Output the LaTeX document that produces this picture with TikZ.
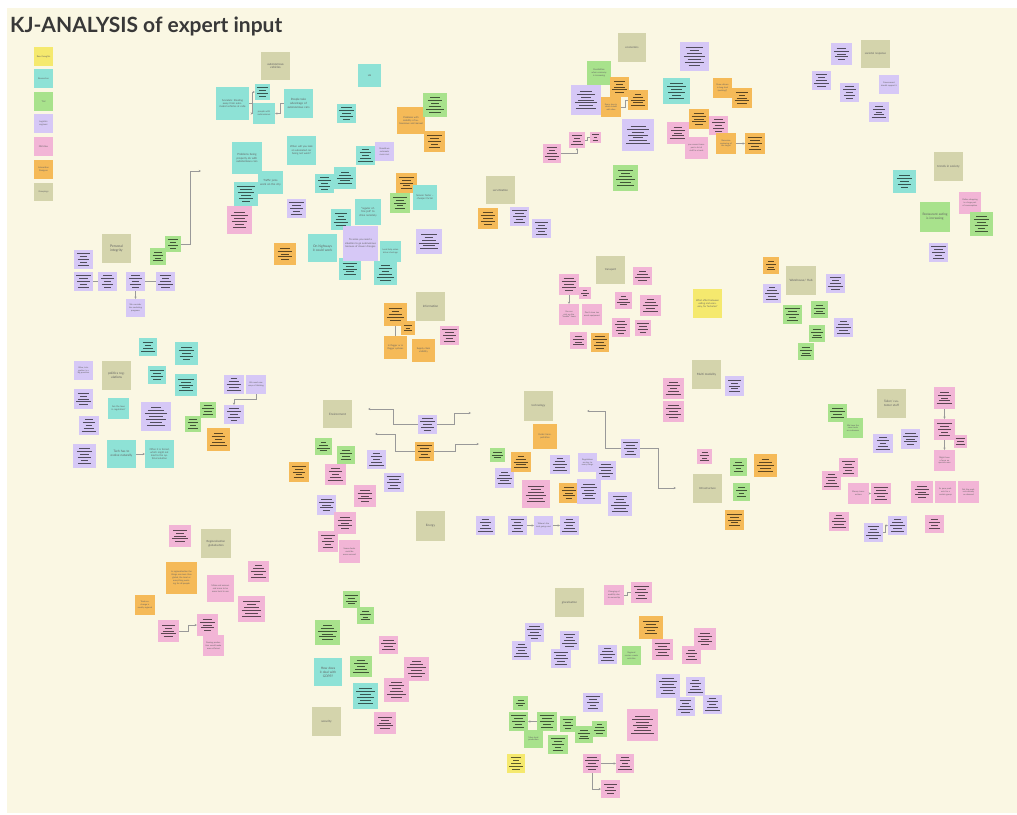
\documentclass[tikz,border=0pt]{standalone}
\usepackage{fontspec}
\setmainfont{Lato}
\usetikzlibrary{arrows.meta}
\definecolor{cBg}{RGB}{250,247,227}
\definecolor{cY}{RGB}{245,233,110}
\definecolor{cT}{RGB}{142,226,214}
\definecolor{cG}{RGB}{168,226,140}
\definecolor{cP}{RGB}{214,200,246}
\definecolor{cK}{RGB}{242,181,214}
\definecolor{cO}{RGB}{245,186,88}
\definecolor{cH}{RGB}{212,212,172}
\tikzset{
  note/.style={inner sep=0pt, outer sep=0pt, draw=none},
  con/.style={draw=black!40, line width=0.5pt},
  arr/.style={con, -{Stealth[length=2.4pt,width=2.2pt]}}
}
% note with placeholder lines: name, x1, y1, x2, y2, colour
\newcommand\LN[6]{%
  \pgfmathsetmacro\kjw{#4-#2}\pgfmathsetmacro\kjh{#5-#3}%
  \pgfmathsetmacro\kjx{(#2+#4)/2}\pgfmathsetmacro\kjy{(#3+#5)/2}%
  \node[note, fill=#6, minimum width=\kjw pt, minimum height=\kjh pt] (#1) at (\kjx,\kjy) {};%
  \pgfmathtruncatemacro\kjn{floor(\kjh*0.62/2.9)+1}%
  \foreach \i in {1,...,\kjn} {%
    \pgfmathsetmacro\kjly{\kjy-(\kjn-1)*1.45+(\i-1)*2.9}%
    \pgfmathsetmacro\kjlf{0.45+0.55*mod(\i*3+#2+#3,7)/6}%
    \pgfmathsetmacro\kjlh{\kjlf*\kjw*0.37}%
    \draw[line width=0.9pt, draw=#6!38!black] (\kjx-\kjlh,\kjly) -- (\kjx+\kjlh,\kjly);
  }%
}
% note with text: name, x1, y1, x2, y2, colour, font size, text
\newcommand\TN[8]{%
  \pgfmathsetmacro\kjw{#4-#2}\pgfmathsetmacro\kjh{#5-#3}%
  \pgfmathsetmacro\kjx{(#2+#4)/2}\pgfmathsetmacro\kjy{(#3+#5)/2}%
  \pgfmathsetmacro\kjtw{\kjw-4}\pgfmathsetmacro\kjbs{#7*1.3}%
  \node[note, fill=#6, minimum width=\kjw pt, minimum height=\kjh pt, text width=\kjtw pt,
        align=center, text=black!62, font=\fontsize{#7pt}{\kjbs pt}\selectfont] (#1) at (\kjx,\kjy) {#8};%
}
\newcommand\HN[7]{\TN{#1}{#2}{#3}{#4}{#5}{cH}{#6}{#7}}
\begin{document}
\begin{tikzpicture}[x=1pt,y=-1pt]
\useasboundingbox (0,0) rectangle (1017,814);
\fill[white] (0,0) rectangle (1017,814);
\fill[cBg] (7,8) rectangle (1017,813);
\node[anchor=base west, inner sep=0pt, text=black!78, font=\bfseries\fontsize{21}{21}\selectfont] (title) at (10,32) {KJ-ANALYSIS of expert input};

% legend
\TN{lg1}{34}{47}{53}{66}{cY}{2.2}{Raw thoughts}
\TN{lg2}{34}{69}{53}{88}{cT}{2.2}{Researcher}
\TN{lg3}{34}{92}{53}{111}{cG}{2.2}{TLU}
\TN{lg4}{34}{114}{53}{133}{cP}{2.2}{Logistics engineer}
\TN{lg5}{34}{137}{53}{156}{cK}{2.2}{DMS Ron}
\TN{lg6}{34}{160}{53}{179}{cO}{2.2}{Interaction Designer}
\TN{lg7}{34}{183}{53}{201}{cH}{2.2}{Groupings}

% autonomous vehicles / ux
\HN{hav}{261}{52}{290}{80}{3}{autonomous vehicles}
\TN{sc}{216}{87}{249}{120}{cT}{2.6}{Scandals: Stealing away from automated vehicles at cabs}
\LN{av1}{255}{84}{270}{100}{cT}
\TN{pw}{253}{103}{275}{124}{cT}{2.3}{people with autonomous}
\TN{pta}{284}{89}{313}{118}{cT}{2.9}{People take advantage of autonomous cars}
\TN{ux}{358}{64}{381}{87}{cT}{3.2}{ux}
\LN{av2}{337}{104}{356}{123}{cT}
\TN{pmo}{397}{107}{425}{134}{cO}{2.4}{Problems with mobility of autonomous and manual}
\LN{av3}{423}{93}{447}{117}{cG}
\LN{av4}{424}{131}{445}{152}{cO}
\TN{pbp}{232}{142}{262}{174}{cT}{2.8}{Problems being properly ok with autonomous cars}
\TN{wwy}{287}{136}{316}{165}{cT}{2.6}{When will you look at automated car being not work?}
\LN{av5}{356}{146}{375}{165}{cT}
\TN{swa}{375}{142}{394}{161}{cP}{2.2}{Should we automate more cars}
\LN{av6}{234}{182}{258}{206}{cT}
\TN{tjw}{258}{171}{283}{194}{cT}{2.8}{Traffic jams work on the city}
\LN{av7}{227}{206}{252}{234}{cK}
\LN{av8}{315}{174}{334}{193}{cT}
\LN{av9}{334}{167}{356}{189}{cT}
\LN{av10}{396}{173}{417}{193}{cO}
\LN{av11}{390}{193}{410}{213}{cG}
\TN{sfc}{413}{185}{437}{210}{cT}{2.5}{Sooner faster -- cheaper factor}
\LN{av12}{287}{199}{306}{218}{cP}
\TN{rof}{355}{199}{381}{225}{cT}{2.7}{``regular office job'' to drive remotely}
\LN{av13}{331}{209}{351}{230}{cT}
\LN{av14}{339}{258}{361}{280}{cT}
\TN{tsy}{343}{226}{378}{261}{cP}{2.5}{To some you need a situation to go autonomous because of slower changes}
\TN{ohw}{308}{234}{337}{262}{cT}{3.3}{On highways it could work}
\TN{lhw}{380}{241}{401}{262}{cT}{2.2}{Local help when driver shortage}
\LN{av15}{274}{243}{296}{265}{cO}
\LN{av16}{416}{229}{442}{254}{cP}
\LN{av17}{374}{261}{397}{285}{cT}
\draw[arr] (sc.east) -- ++(3,0) |- (av1);
\draw[arr] (sc.east) -- ++(3,0) |- (pw);
\draw[arr] (pta.west) -- ++(-4,0) |- (pw);

% personal integrity
\HN{hpi}{102}{234}{131}{263}{3.4}{Personal integrity}
\LN{pg1}{165}{236}{181}{252}{cG}
\LN{pg2}{150}{248}{166}{265}{cG}
\coordinate (pgEnd) at (201,171);
\draw[arr] (pg1.east) -- ++(9,0) |- (pgEnd);
\LN{pp0}{74}{250}{93}{269}{cP}
\LN{pp1}{74}{272}{93}{291}{cP}
\LN{pp2}{98}{272}{117}{291}{cP}
\LN{pp3}{126}{272}{145}{291}{cP}
\LN{pp4}{156}{272}{175}{291}{cP}
\TN{pt1}{126}{299}{145}{317}{cP}{2.1}{We consider the marketing programs}
\draw[con] (pp1) -- (pp2);
\draw[con] (pp3) -- (pp4);
\draw[arr] (pp3) -- (pt1);

% politics regulations
\LN{po1}{139}{338}{157}{356}{cT}
\LN{po2}{175}{342}{198}{365}{cT}
\TN{wig}{74}{361}{93}{380}{cP}{2.1}{Wow, integration is a big question}
\HN{hpr}{102}{361}{131}{390}{3.2}{politics regulations}
\LN{po3}{148}{366}{166}{384}{cT}
\LN{po4}{175}{374}{197}{396}{cT}
\LN{po5}{74}{389}{93}{409}{cP}
\TN{alr}{108}{398}{129}{419}{cT}{2.3}{Are the laws in regulation?}
\LN{po6}{141}{402}{171}{431}{cP}
\LN{po7}{79}{416}{99}{435}{cP}
\LN{po8}{224}{375}{244}{394}{cP}
\TN{po9}{246}{375}{266}{394}{cP}{2.1}{We need new ways of thinking}
\LN{po10}{224}{405}{244}{424}{cP}
\draw[arr] (po9.south) -- ++(0,5) -| (po10.north);
\LN{po11}{200}{402}{216}{418}{cG}
\LN{po12}{185}{416}{201}{432}{cG}
\LN{po13}{207}{428}{230}{451}{cO}
\LN{po14}{73}{444}{96}{468}{cP}
\TN{tev}{107}{440}{136}{468}{cT}{3.1}{Tech has to evolve naturally}
\TN{oif}{145}{440}{174}{468}{cT}{2.5}{Often it is forced, which might not lead to the optimal solution}
\draw[arr] (tev) -- (oif);

% regionalisation
\LN{rg1}{169}{525}{191}{547}{cK}
\HN{hrg}{201}{529}{231}{558}{2.8}{Regionalisation globalisation}
\TN{irg}{166}{562}{197}{594}{cO}{2.2}{In regionalisation the things are more than global, the local or everything working for all people}
\TN{mas}{207}{575}{234}{602}{cK}{2.2}{Make and sensors and more to be more local in use}
\LN{rg2}{248}{561}{269}{582}{cK}
\LN{rg3}{238}{596}{265}{622}{cK}
\TN{tem}{135}{595}{155}{615}{cO}{2.1}{Trade exchange is mostly regional}
\LN{rp1}{158}{620}{179}{642}{cK}
\LN{rp2}{197}{614}{218}{636}{cK}
\TN{cpm}{203}{635}{224}{656}{cK}{2.1}{Coming production would make more efficient}
\draw[arr] (rp1.east) -- ++(9,0) |- (rp2);

% information
\HN{hin}{416}{292}{445}{321}{3}{Information}
\LN{io1}{384}{303}{407}{326}{cO}
\LN{io2}{401}{321}{415}{335}{cO}
\TN{io3}{384}{336}{407}{359}{cO}{2.3}{In flagger or in flagger systems}
\TN{scv}{412}{339}{435}{362}{cO}{2.4}{Supply chain visibility}
\LN{ik1}{440}{326}{459}{345}{cK}
\draw[con] (io1.south) -- (io3.north);

% environment
\HN{hen}{323}{400}{352}{428}{3}{Environment}
\LN{ep}{418}{415}{437}{434}{cP}
\LN{eo}{415}{442}{434}{461}{cO}
\coordinate (e1L) at (368,409);
\coordinate (e1R) at (471,413);
\coordinate (e2L) at (375,434);
\coordinate (e2R) at (479,444);
\draw[arr] (ep.west) -- ++(-25,0) |- (e1L);
\draw[arr] (ep.east) -- ++(17,0) |- (e1R);
\draw[arr] (eo.west) -- ++(-20,0) |- (e2L);
\draw[arr] (eo.east) -- ++(21,0) |- (e2R);
\LN{en1}{315}{438}{332}{455}{cG}
\LN{en2}{337}{446}{355}{464}{cG}
\LN{en3}{289}{462}{309}{482}{cO}
\LN{en4}{325}{464}{346}{485}{cK}
\LN{en5}{367}{450}{386}{469}{cP}
\LN{en6}{384}{473}{404}{492}{cP}
\LN{en7}{354}{485}{376}{507}{cK}
\LN{en8}{317}{495}{336}{515}{cP}
\LN{en9}{334}{512}{356}{534}{cK}
\LN{en10}{318}{531}{338}{552}{cK}
\TN{scc}{339}{540}{360}{563}{cK}{2.1}{Some clocks could be more secured}
\HN{hen2}{416}{511}{445}{541}{3}{Energy}

% security
\LN{se1}{343}{591}{360}{608}{cG}
\LN{se2}{357}{607}{374}{624}{cG}
\LN{se3}{315}{620}{340}{645}{cG}
\LN{se4}{379}{636}{398}{654}{cK}
\TN{gdpr}{314}{658}{342}{686}{cT}{3.2}{How does it deal with GDPR?}
\LN{se5}{350}{656}{372}{677}{cG}
\LN{se6}{404}{657}{429}{681}{cK}
\LN{se7}{353}{683}{378}{709}{cT}
\LN{se8}{384}{678}{409}{702}{cK}
\HN{hse}{312}{707}{341}{736}{3}{security}
\LN{se9}{374}{712}{396}{734}{cK}

% servitization
\HN{hsv}{486}{176}{515}{204}{2.8}{servitization}
\LN{sv1}{478}{208}{498}{229}{cO}
\LN{sv2}{510}{207}{529}{226}{cP}
\LN{sv3}{532}{219}{551}{238}{cP}

% economics
\HN{hec}{618}{33}{646}{62}{2.8}{economics}
\TN{pos}{587}{61}{611}{85}{cG}{2.2}{Possibilities when economy is increasing}
\LN{ec1}{680}{42}{709}{71}{cP}
\LN{ec2}{610}{77}{629}{97}{cO}
\LN{ec3}{571}{85}{601}{115}{cP}
\TN{eo1}{601}{97}{621}{117}{cO}{2.1}{Every step in chain should add value}
\LN{eo2}{628}{90}{648}{110}{cO}
\draw[con] (eo1.east) -- ++(4,0) |- (eo2);
\LN{ec4}{663}{78}{690}{104}{cT}
\TN{shw}{713}{78}{732}{98}{cO}{2.1}{Show drivers in long-haul (working?)}
\LN{ec5}{732}{88}{752}{108}{cO}
\LN{ec6}{622}{119}{654}{151}{cP}
\LN{ec7}{689}{109}{709}{129}{cO}
\LN{ec8}{667}{122}{689}{144}{cK}
\LN{ec9}{709}{116}{728}{135}{cK}
\TN{ycn}{685}{137}{708}{159}{cK}{2.1}{you cannot transport a lot of stuff in a truck}
\TN{rec}{716}{133}{736}{154}{cO}{2.1}{Recursive reviewing of the target}
\LN{recR}{745}{133}{765}{154}{cO}
\draw[arr] (rec) -- (recR);
\LN{ek1}{569}{132}{585}{148}{cK}
\LN{ek2}{590}{132}{601}{143}{cK}
\LN{ek3}{543}{144}{561}{163}{cK}
\draw[arr] (ek3.east) -| (ek1.south);
\draw[con] (ek1.east) -- ++(2,0) |- (ek2);
\LN{ec10}{613}{165}{638}{191}{cG}

% societal response
\HN{hsr}{861}{40}{890}{68}{2.8}{societal response}
\LN{sr1}{831}{43}{852}{65}{cP}
\LN{sr2}{812}{71}{831}{90}{cP}
\LN{sr3}{840}{83}{859}{102}{cP}
\TN{gov}{879}{75}{899}{94}{cP}{2.1}{Government should support it}
\LN{sr4}{869}{102}{889}{122}{cP}

% trends in society
\HN{hts}{934}{152}{963}{181}{3}{trends in society}
\LN{ts1}{893}{170}{916}{193}{cT}
\TN{rei}{920}{202}{950}{232}{cG}{3.2}{Restaurant eating is increasing}
\TN{tsp}{959}{192}{981}{214}{cK}{2.1}{Online shopping is a large part of consumption}
\LN{ts2}{970}{212}{993}{236}{cG}
\LN{ts3}{929}{243}{948}{262}{cP}

% transport
\HN{htr}{596}{256}{625}{284}{2.8}{transport}
\LN{tr0}{633}{267}{652}{285}{cK}
\LN{tp1}{559}{274}{579}{295}{cK}
\LN{tp2}{579}{287}{591}{299}{cK}
\TN{tt1}{559}{304}{579}{325}{cK}{2.1}{You can pick up the ``smaller'' items}
\TN{tt2}{582}{304}{602}{325}{cK}{2.1}{Don't store too much equipment}
\draw[arr] (tp1.south) -- (tt1.north);
\LN{tr1}{615}{292}{632}{309}{cK}
\LN{tr2}{640}{295}{661}{316}{cK}
\LN{tr3}{612}{318}{630}{337}{cK}
\LN{tr4}{635}{320}{651}{336}{cK}
\LN{tr5}{570}{332}{587}{349}{cK}
\LN{tr6}{591}{333}{609}{352}{cO}
\TN{wef}{693}{289}{722}{318}{cY}{2.4}{What effect between eating and economy, for factories?}

% warehouse
\LN{wh0}{763}{257}{779}{274}{cO}
\HN{hwh}{786}{266}{816}{295}{3}{Warehouse/ Hub}
\LN{wh1}{763}{284}{781}{303}{cP}
\LN{wh2}{826}{274}{845}{293}{cP}
\LN{wh3}{783}{305}{802}{324}{cG}
\LN{wh4}{811}{301}{828}{318}{cG}
\LN{wh5}{834}{318}{853}{337}{cP}
\LN{wh6}{809}{325}{825}{342}{cG}
\LN{wh7}{798}{343}{814}{360}{cG}

% multi modality
\HN{hmm}{692}{360}{721}{389}{3}{Multi modality}
\LN{mm1}{725}{376}{744}{396}{cP}
\LN{mm2}{663}{378}{684}{399}{cK}
\LN{mm3}{663}{401}{684}{422}{cK}

% technology
\HN{hte}{524}{391}{553}{421}{2.8}{technology}
\TN{fst}{533}{424}{557}{449}{cO}{2.3}{Faster transportation}
\LN{tp}{621}{439}{640}{458}{cP}
\coordinate (t1L) at (587,411);
\coordinate (t1R) at (676,488);
\draw[arr] (tp.west) -- ++(-16,0) |- (t1L);
\draw[arr] (tp.east) -- ++(18,0) |- (t1R);
\LN{te1}{490}{448}{505}{462}{cG}
\LN{te2}{495}{468}{514}{488}{cP}
\LN{te3}{511}{452}{531}{472}{cO}
\LN{te4}{550}{455}{570}{474}{cP}
\TN{rkt}{578}{453}{597}{472}{cP}{2.1}{Regulations are key to many things}
\LN{te5}{596}{461}{616}{480}{cP}
\LN{te6}{522}{480}{550}{508}{cK}
\LN{te7}{559}{483}{579}{503}{cO}
\LN{te8}{577}{479}{601}{504}{cP}
\LN{te9}{608}{492}{632}{516}{cP}
\LN{tw0}{476}{516}{495}{535}{cP}
\LN{tw1}{508}{516}{527}{535}{cP}
\TN{tw2}{534}{516}{553}{535}{cP}{2.1}{Where's the tech going next}
\LN{tw3}{560}{516}{579}{535}{cP}
\draw[arr] (tw1) -- (tw2);
\draw[arr] (tw2) -- (tw3);

% infrastructure
\LN{in1}{697}{449}{712}{464}{cK}
\HN{hif}{693}{474}{722}{503}{2.8}{Infrastructure}
\LN{in2}{730}{458}{747}{476}{cG}
\LN{in3}{754}{454}{777}{477}{cO}
\LN{in4}{733}{483}{750}{501}{cG}
\LN{in5}{725}{510}{744}{530}{cO}

% tailor customer stuff
\HN{htc}{877}{389}{906}{418}{3}{Tailor/ customer stuff}
\LN{tk1}{934}{387}{955}{409}{cK}
\LN{tk2}{934}{419}{955}{440}{cK}
\LN{tk4}{954}{435}{967}{448}{cK}
\TN{tk3}{934}{450}{955}{471}{cK}{2.1}{Might have a focus on special cases}
\draw[arr] (tk1) -- (tk2);
\draw[arr] (tk2) -- (tk3);
\LN{tc1}{828}{404}{847}{422}{cG}
\TN{whc}{843}{418}{863}{438}{cG}{2.1}{We have the same tools as customers}
\LN{tc2}{873}{434}{893}{453}{cP}
\LN{tc3}{901}{429}{920}{449}{cP}
\LN{tc4}{839}{458}{858}{477}{cK}
\LN{tc5}{822}{471}{841}{490}{cK}
\TN{mny}{848}{483}{869}{504}{cK}{2.1}{Money transactions}
\LN{mk}{871}{483}{891}{504}{cK}
\draw[arr] (mny) -- (mk);
\LN{tc6}{911}{481}{933}{503}{cK}
\TN{tc7}{935}{481}{956}{503}{cK}{2.1}{Its pure products for a certain group}
\TN{tc8}{958}{481}{979}{503}{cK}{2.1}{Get the products already on demand}
\LN{tc9}{829}{512}{849}{531}{cK}
\LN{tq1}{864}{523}{883}{542}{cP}
\LN{tq2}{888}{516}{907}{535}{cP}
\draw[arr] (tq1.east) -- ++(2,0) |- (tq2);
\LN{tc10}{925}{515}{944}{533}{cK}

% glocalisation
\HN{hgl}{555}{588}{584}{617}{2.8}{glocalisation}
\TN{chg}{604}{585}{624}{605}{cK}{2.1}{Changing of mobility due to ownership}
\LN{chgR}{631}{582}{652}{603}{cK}
\draw[con] (chg.east) -- ++(3,0) |- (chgR);
\LN{gl1}{639}{616}{663}{639}{cO}
\LN{gl2}{525}{623}{544}{642}{cP}
\LN{gl3}{512}{641}{531}{660}{cP}
\LN{gl4}{560}{631}{579}{650}{cP}
\LN{gl5}{551}{649}{571}{668}{cP}
\LN{gl6}{598}{645}{617}{664}{cP}
\TN{rsc}{622}{646}{641}{665}{cG}{2.1}{Regional sectors create activities}
\LN{gl7}{652}{639}{673}{660}{cK}
\LN{gl8}{694}{628}{716}{650}{cK}
\LN{gl9}{682}{646}{701}{664}{cK}
\LN{gl10}{656}{674}{680}{698}{cP}
\LN{gl11}{686}{677}{705}{696}{cP}
\LN{gl12}{676}{697}{695}{716}{cP}
\LN{gl13}{703}{695}{722}{714}{cP}
\LN{gl14}{583}{693}{603}{712}{cP}
\LN{gl15}{627}{709}{658}{741}{cK}
\LN{gg1}{513}{696}{528}{710}{cG}
\LN{gg2}{509}{712}{528}{731}{cG}
\LN{gg3}{537}{712}{557}{731}{cG}
\draw[arr] (gg3) -- (gg2);
\TN{gmr}{524}{730}{543}{748}{cG}{2.1}{More local production}
\LN{gg4}{560}{716}{576}{732}{cG}
\LN{gg5}{575}{726}{593}{743}{cG}
\LN{gg6}{592}{721}{607}{737}{cG}
\LN{gg7}{548}{735}{568}{754}{cG}
\LN{gy1}{507}{754}{525}{773}{cY}
\LN{gk1}{583}{754}{601}{773}{cK}
\LN{gk2}{616}{754}{634}{773}{cK}
\LN{gk3}{601}{780}{620}{798}{cK}
\draw[arr] (gk1) -- (gk2);
\draw[arr] (gk1.south) |- (gk3);
\end{tikzpicture}
\end{document}
